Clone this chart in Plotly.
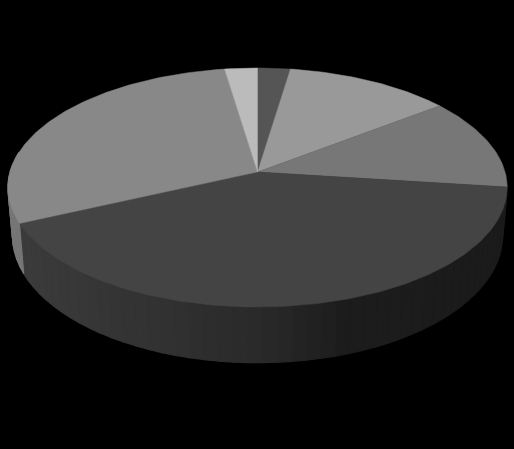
"""Grayscale 3D-look pie, projected by hand since Plotly has no tilted pie."""

import numpy as np
import plotly.graph_objects as go

# slice shares in percent, clockwise from 12 o'clock
slice_names = ["A", "B", "C", "D", "E", "F"]
slice_values = [2.4, 12.2, 12.4, 41.2, 29.4, 2.4]
top_colors = ["#555555", "#999999", "#777777", "#444444", "#888888", "#BBBBBB"]
# wall shading across the chart width, darkens towards the right
wall_stops = [0.0, 0.5, 0.68, 1.0]
wall_dark_gray = [60, 42, 28, 27]
wall_light_gray = [118, 108, 100, 100]
wall_is_light = [False, False, False, False, True, True]

WIDTH, HEIGHT = 514, 449
APEX_X, APEX_Y = 257.5, 172
TOP_A, TOP_C = 247.5, 117.5
BOTTOM_APEX_Y = 219
BOTTOM_A, BOTTOM_C = 243, 125
PERSPECTIVE = 0.13


def project(deg, apex_y, a, c):
    """Clockwise-from-top angle on the disc -> chart x, y."""
    rad = np.radians(deg)
    sx, cy = np.sin(rad), np.cos(rad)
    w = 1 + PERSPECTIVE * cy
    return APEX_X + a * sx / w, apex_y - c * cy / w


def wall_gray(x, light):
    frac = (x - (APEX_X - TOP_A)) / (2 * TOP_A)
    grays = wall_light_gray if light else wall_dark_gray
    return int(round(np.interp(frac, wall_stops, grays)))


edges = np.concatenate([[0], np.cumsum(slice_values)]) / sum(slice_values) * 360

fig = go.Figure()

# side wall first, the top surface goes over it
for i, name in enumerate(slice_names):
    start, end = max(edges[i], 80), min(edges[i + 1], 280)
    if end <= start:
        continue
    steps = np.linspace(start, end, max(2, int((end - start) / 3) + 1))
    for d0, d1 in zip(steps[:-1], steps[1:]):
        tx, ty = project(np.array([d0, d1]), APEX_Y, TOP_A, TOP_C)
        bx, by = project(np.array([d1, d0]), BOTTOM_APEX_Y, BOTTOM_A, BOTTOM_C)
        g = wall_gray(tx.mean(), wall_is_light[i])
        color = f"rgb({g},{g},{g})"
        fig.add_trace(
            go.Scatter(
                x=[*tx, *bx, tx[0]],
                y=[*ty, *by, ty[0]],
                mode="lines",
                fill="toself",
                fillcolor=color,
                line={"color": color, "width": 1.2},
                hoverinfo="skip",
                showlegend=False,
            )
        )

for i, name in enumerate(slice_names):
    arc = np.linspace(edges[i], edges[i + 1], max(3, int(edges[i + 1] - edges[i]) + 1))
    ax, ay = project(arc, APEX_Y, TOP_A, TOP_C)
    fig.add_trace(
        go.Scatter(
            x=[APEX_X, *ax, APEX_X],
            y=[APEX_Y, *ay, APEX_Y],
            mode="lines",
            fill="toself",
            fillcolor=top_colors[i],
            line={"color": top_colors[i], "width": 0.5},
            name=name,
            hoverinfo="name",
            showlegend=False,
        )
    )

fig.update_xaxes(range=[0, WIDTH], visible=False, fixedrange=True)
fig.update_yaxes(range=[HEIGHT, 0], visible=False, fixedrange=True)
fig.update_layout(
    width=WIDTH,
    height=HEIGHT,
    margin={"l": 0, "r": 0, "t": 0, "b": 0},
    paper_bgcolor="#000000",
    plot_bgcolor="#000000",
    showlegend=False,
)
fig.write_html(
    "out.html",
    config={"displayModeBar": False},
    post_script="document.body.style.margin='0';document.body.style.background='#000';",
)
